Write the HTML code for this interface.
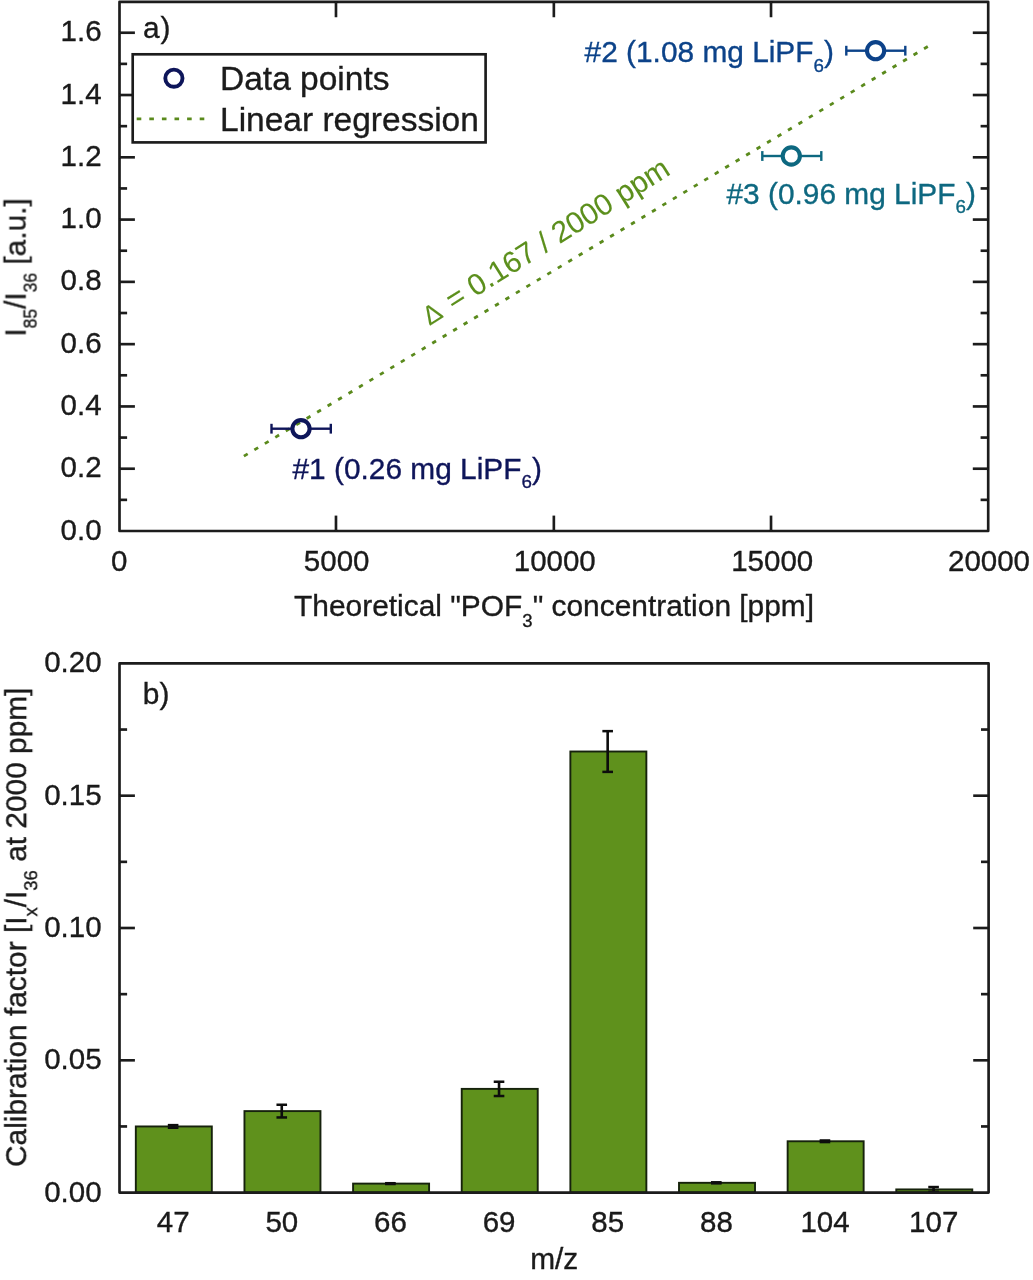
<!DOCTYPE html>
<html lang="en"><head><meta charset="utf-8"><title>Calibration figure</title>
<style>html,body{margin:0;padding:0;background:#fff}body{width:1033px;height:1280px;overflow:hidden}svg{display:block}</style>
</head><body>
<svg width="1033" height="1280" viewBox="0 0 1033 1280" font-family="'Liberation Sans', Arial, sans-serif" font-size="29.85" fill="#1a1a1a">
<style>text{stroke:#1a1a1a;stroke-width:0.35px}</style>
<rect width="1033" height="1280" fill="#fff"/>
<defs><filter id="soft" x="0" y="0" width="100%" height="100%" filterUnits="userSpaceOnUse"><feGaussianBlur stdDeviation="0.55"/></filter></defs>
<g filter="url(#soft)">
<rect width="1033" height="1280" fill="#fff"/>
<line x1="243.91" y1="456.13" x2="927.79" y2="46.47" stroke="#5a8a1c" stroke-width="2.8" stroke-dasharray="4.4 7.797"/>
<rect x="119.5" y="1.85" width="868.70" height="529.15" fill="none" stroke="#1a1a1a" stroke-width="2.65" stroke-linejoin="round"/>
<line x1="119.50" y1="499.86" x2="127.10" y2="499.86" stroke="#1a1a1a" stroke-width="2.65" />
<line x1="988.20" y1="499.86" x2="980.60" y2="499.86" stroke="#1a1a1a" stroke-width="2.65" />
<line x1="119.50" y1="468.72" x2="134.90" y2="468.72" stroke="#1a1a1a" stroke-width="2.65" />
<line x1="988.20" y1="468.72" x2="972.80" y2="468.72" stroke="#1a1a1a" stroke-width="2.65" />
<text x="101.6" y="477.22" text-anchor="end" font-size="29.5">0.2</text>
<line x1="119.50" y1="437.58" x2="127.10" y2="437.58" stroke="#1a1a1a" stroke-width="2.65" />
<line x1="988.20" y1="437.58" x2="980.60" y2="437.58" stroke="#1a1a1a" stroke-width="2.65" />
<line x1="119.50" y1="406.44" x2="134.90" y2="406.44" stroke="#1a1a1a" stroke-width="2.65" />
<line x1="988.20" y1="406.44" x2="972.80" y2="406.44" stroke="#1a1a1a" stroke-width="2.65" />
<text x="101.6" y="414.94" text-anchor="end" font-size="29.5">0.4</text>
<line x1="119.50" y1="375.29" x2="127.10" y2="375.29" stroke="#1a1a1a" stroke-width="2.65" />
<line x1="988.20" y1="375.29" x2="980.60" y2="375.29" stroke="#1a1a1a" stroke-width="2.65" />
<line x1="119.50" y1="344.15" x2="134.90" y2="344.15" stroke="#1a1a1a" stroke-width="2.65" />
<line x1="988.20" y1="344.15" x2="972.80" y2="344.15" stroke="#1a1a1a" stroke-width="2.65" />
<text x="101.6" y="352.65" text-anchor="end" font-size="29.5">0.6</text>
<line x1="119.50" y1="313.01" x2="127.10" y2="313.01" stroke="#1a1a1a" stroke-width="2.65" />
<line x1="988.20" y1="313.01" x2="980.60" y2="313.01" stroke="#1a1a1a" stroke-width="2.65" />
<line x1="119.50" y1="281.87" x2="134.90" y2="281.87" stroke="#1a1a1a" stroke-width="2.65" />
<line x1="988.20" y1="281.87" x2="972.80" y2="281.87" stroke="#1a1a1a" stroke-width="2.65" />
<text x="101.6" y="290.37" text-anchor="end" font-size="29.5">0.8</text>
<line x1="119.50" y1="250.73" x2="127.10" y2="250.73" stroke="#1a1a1a" stroke-width="2.65" />
<line x1="988.20" y1="250.73" x2="980.60" y2="250.73" stroke="#1a1a1a" stroke-width="2.65" />
<line x1="119.50" y1="219.59" x2="134.90" y2="219.59" stroke="#1a1a1a" stroke-width="2.65" />
<line x1="988.20" y1="219.59" x2="972.80" y2="219.59" stroke="#1a1a1a" stroke-width="2.65" />
<text x="101.6" y="228.09" text-anchor="end" font-size="29.5">1.0</text>
<line x1="119.50" y1="188.45" x2="127.10" y2="188.45" stroke="#1a1a1a" stroke-width="2.65" />
<line x1="988.20" y1="188.45" x2="980.60" y2="188.45" stroke="#1a1a1a" stroke-width="2.65" />
<line x1="119.50" y1="157.31" x2="134.90" y2="157.31" stroke="#1a1a1a" stroke-width="2.65" />
<line x1="988.20" y1="157.31" x2="972.80" y2="157.31" stroke="#1a1a1a" stroke-width="2.65" />
<text x="101.6" y="165.81" text-anchor="end" font-size="29.5">1.2</text>
<line x1="119.50" y1="126.16" x2="127.10" y2="126.16" stroke="#1a1a1a" stroke-width="2.65" />
<line x1="988.20" y1="126.16" x2="980.60" y2="126.16" stroke="#1a1a1a" stroke-width="2.65" />
<line x1="119.50" y1="95.02" x2="134.90" y2="95.02" stroke="#1a1a1a" stroke-width="2.65" />
<line x1="988.20" y1="95.02" x2="972.80" y2="95.02" stroke="#1a1a1a" stroke-width="2.65" />
<text x="101.6" y="103.52" text-anchor="end" font-size="29.5">1.4</text>
<line x1="119.50" y1="63.88" x2="127.10" y2="63.88" stroke="#1a1a1a" stroke-width="2.65" />
<line x1="988.20" y1="63.88" x2="980.60" y2="63.88" stroke="#1a1a1a" stroke-width="2.65" />
<line x1="119.50" y1="32.74" x2="134.90" y2="32.74" stroke="#1a1a1a" stroke-width="2.65" />
<line x1="988.20" y1="32.74" x2="972.80" y2="32.74" stroke="#1a1a1a" stroke-width="2.65" />
<text x="101.6" y="41.24" text-anchor="end" font-size="29.5">1.6</text>
<text x="101.6" y="539.50" text-anchor="end" font-size="29.5">0.0</text>
<line x1="335.98" y1="531.00" x2="335.98" y2="515.60" stroke="#1a1a1a" stroke-width="2.65" />
<line x1="335.98" y1="1.85" x2="335.98" y2="17.25" stroke="#1a1a1a" stroke-width="2.65" />
<line x1="553.85" y1="531.00" x2="553.85" y2="515.60" stroke="#1a1a1a" stroke-width="2.65" />
<line x1="553.85" y1="1.85" x2="553.85" y2="17.25" stroke="#1a1a1a" stroke-width="2.65" />
<line x1="771.02" y1="531.00" x2="771.02" y2="515.60" stroke="#1a1a1a" stroke-width="2.65" />
<line x1="771.02" y1="1.85" x2="771.02" y2="17.25" stroke="#1a1a1a" stroke-width="2.65" />
<text x="119.30" y="570.5" text-anchor="middle" font-size="29.5">0</text>
<text x="336.68" y="570.5" text-anchor="middle" font-size="29.5">5000</text>
<text x="554.75" y="570.5" text-anchor="middle" font-size="29.5">10000</text>
<text x="772.23" y="570.5" text-anchor="middle" font-size="29.5">15000</text>
<text x="989.00" y="570.5" text-anchor="middle" font-size="29.5">20000</text>
<text x="294.1" y="616.3" font-size="29.9">Theoretical "POF<tspan font-size="18.51" dy="10.6">3</tspan><tspan dy="-10.6">" concentration [ppm]</tspan></text>
<text transform="translate(25.6,336.6) rotate(-90)">I<tspan font-size="17.46" dy="10.6">85</tspan><tspan dy="-10.6">/I</tspan><tspan font-size="17.46" dy="10.6">36</tspan><tspan dy="-10.6"> [a.u.]</tspan></text>
<text x="143.0" y="38.4">a<tspan dx="0.8">)</tspan></text>
<rect x="132.7" y="54.3" width="352.90" height="88.10" fill="#fff" stroke="#1a1a1a" stroke-width="2.65"/>
<circle cx="173.9" cy="78.2" r="8.6" fill="none" stroke="#11145a" stroke-width="3.9"/>
<line x1="136.7" y1="118.8" x2="206" y2="118.8" stroke="#5a8a1c" stroke-width="2.8" stroke-dasharray="4.6 8.0"/>
<text x="220.0" y="90.0" font-size="33.5">Data points</text>
<text x="220.0" y="130.8" font-size="33.5">Linear regression</text>
<line x1="271.50" y1="428.70" x2="292.40" y2="428.70" stroke="#11145a" stroke-width="2.4" />
<line x1="309.60" y1="428.70" x2="330.80" y2="428.70" stroke="#11145a" stroke-width="2.4" />
<line x1="271.50" y1="423.80" x2="271.50" y2="433.60" stroke="#11145a" stroke-width="2.4" />
<line x1="330.80" y1="423.80" x2="330.80" y2="433.60" stroke="#11145a" stroke-width="2.4" />
<circle cx="301.0" cy="428.7" r="8.6" fill="none" stroke="#11145a" stroke-width="4.1"/>
<line x1="846.30" y1="50.70" x2="867.00" y2="50.70" stroke="#0a4389" stroke-width="2.4" />
<line x1="884.20" y1="50.70" x2="905.30" y2="50.70" stroke="#0a4389" stroke-width="2.4" />
<line x1="846.30" y1="45.80" x2="846.30" y2="55.60" stroke="#0a4389" stroke-width="2.4" />
<line x1="905.30" y1="45.80" x2="905.30" y2="55.60" stroke="#0a4389" stroke-width="2.4" />
<circle cx="875.6" cy="50.7" r="8.6" fill="none" stroke="#0a4389" stroke-width="4.1"/>
<line x1="762.30" y1="156.00" x2="782.70" y2="156.00" stroke="#0f6880" stroke-width="2.4" />
<line x1="799.90" y1="156.00" x2="821.30" y2="156.00" stroke="#0f6880" stroke-width="2.4" />
<line x1="762.30" y1="151.10" x2="762.30" y2="160.90" stroke="#0f6880" stroke-width="2.4" />
<line x1="821.30" y1="151.10" x2="821.30" y2="160.90" stroke="#0f6880" stroke-width="2.4" />
<circle cx="791.3" cy="156.0" r="8.6" fill="none" stroke="#0f6880" stroke-width="4.1"/>
<text x="584.6" y="61.8" fill="#0a4389" style="stroke:#0a4389">#2 (1.08 mg LiPF<tspan font-size="18.81" dy="9.8">6</tspan><tspan dy="-9.8">)</tspan></text>
<text x="726.5" y="203.5" fill="#0f6880" style="stroke:#0f6880">#3 (0.96 mg LiPF<tspan font-size="18.81" dy="9.8">6</tspan><tspan dy="-9.8">)</tspan></text>
<text x="292.5" y="478.5" fill="#11145a" style="stroke:#11145a">#1 (0.26 mg LiPF<tspan font-size="18.81" dy="9.8">6</tspan><tspan dy="-9.8">)</tspan></text>
<text transform="translate(429.5,326.0) rotate(-32.15)" fill="#5b8f1c" style="stroke:#5b8f1c;stroke-width:0.1px"><tspan font-size="26.4">Δ</tspan><tspan dx="2.3"> = 0.167 / 2000 ppm</tspan></text>
<rect x="135.82" y="1126.45" width="76.0" height="66.15" fill="#5e911d" stroke="#16220a" stroke-width="1.9"/>
<line x1="173.12" y1="1125.13" x2="173.12" y2="1127.77" stroke="#0c0c0c" stroke-width="2.6" />
<line x1="167.82" y1="1125.13" x2="178.42" y2="1125.13" stroke="#0c0c0c" stroke-width="2.5" />
<line x1="167.82" y1="1127.77" x2="178.42" y2="1127.77" stroke="#0c0c0c" stroke-width="2.5" />
<text x="173.22" y="1232.3" text-anchor="middle" font-size="29.5">47</text>
<rect x="244.46" y="1111.10" width="76.0" height="81.50" fill="#5e911d" stroke="#16220a" stroke-width="1.9"/>
<line x1="281.76" y1="1104.75" x2="281.76" y2="1117.45" stroke="#0c0c0c" stroke-width="2.6" />
<line x1="276.46" y1="1104.75" x2="287.06" y2="1104.75" stroke="#0c0c0c" stroke-width="2.5" />
<line x1="276.46" y1="1117.45" x2="287.06" y2="1117.45" stroke="#0c0c0c" stroke-width="2.5" />
<text x="281.86" y="1232.3" text-anchor="middle" font-size="29.5">50</text>
<rect x="353.09" y="1183.60" width="76.0" height="9.00" fill="#5e911d" stroke="#16220a" stroke-width="1.9"/>
<line x1="390.39" y1="1183.21" x2="390.39" y2="1184.00" stroke="#0c0c0c" stroke-width="2.6" />
<line x1="385.09" y1="1183.21" x2="395.69" y2="1183.21" stroke="#0c0c0c" stroke-width="2.5" />
<line x1="385.09" y1="1184.00" x2="395.69" y2="1184.00" stroke="#0c0c0c" stroke-width="2.5" />
<text x="390.49" y="1232.3" text-anchor="middle" font-size="29.5">66</text>
<rect x="461.73" y="1088.88" width="76.0" height="103.72" fill="#5e911d" stroke="#16220a" stroke-width="1.9"/>
<line x1="499.03" y1="1081.73" x2="499.03" y2="1096.02" stroke="#0c0c0c" stroke-width="2.6" />
<line x1="493.73" y1="1081.73" x2="504.33" y2="1081.73" stroke="#0c0c0c" stroke-width="2.5" />
<line x1="493.73" y1="1096.02" x2="504.33" y2="1096.02" stroke="#0c0c0c" stroke-width="2.5" />
<text x="499.13" y="1232.3" text-anchor="middle" font-size="29.5">69</text>
<rect x="570.37" y="751.51" width="76.0" height="441.09" fill="#5e911d" stroke="#16220a" stroke-width="1.9"/>
<line x1="607.67" y1="731.14" x2="607.67" y2="771.89" stroke="#0c0c0c" stroke-width="2.6" />
<line x1="602.37" y1="731.14" x2="612.97" y2="731.14" stroke="#0c0c0c" stroke-width="2.5" />
<line x1="602.37" y1="771.89" x2="612.97" y2="771.89" stroke="#0c0c0c" stroke-width="2.5" />
<text x="607.77" y="1232.3" text-anchor="middle" font-size="29.5">85</text>
<rect x="679.01" y="1182.81" width="76.0" height="9.79" fill="#5e911d" stroke="#16220a" stroke-width="1.9"/>
<line x1="716.31" y1="1182.28" x2="716.31" y2="1183.34" stroke="#0c0c0c" stroke-width="2.6" />
<line x1="711.01" y1="1182.28" x2="721.61" y2="1182.28" stroke="#0c0c0c" stroke-width="2.5" />
<line x1="711.01" y1="1183.34" x2="721.61" y2="1183.34" stroke="#0c0c0c" stroke-width="2.5" />
<text x="716.41" y="1232.3" text-anchor="middle" font-size="29.5">88</text>
<rect x="787.64" y="1141.27" width="76.0" height="51.33" fill="#5e911d" stroke="#16220a" stroke-width="1.9"/>
<line x1="824.94" y1="1140.47" x2="824.94" y2="1142.06" stroke="#0c0c0c" stroke-width="2.6" />
<line x1="819.64" y1="1140.47" x2="830.24" y2="1140.47" stroke="#0c0c0c" stroke-width="2.5" />
<line x1="819.64" y1="1142.06" x2="830.24" y2="1142.06" stroke="#0c0c0c" stroke-width="2.5" />
<text x="825.04" y="1232.3" text-anchor="middle" font-size="29.5">104</text>
<rect x="896.28" y="1189.42" width="76.0" height="3.18" fill="#5e911d" stroke="#16220a" stroke-width="1.9"/>
<line x1="933.58" y1="1187.04" x2="933.58" y2="1191.81" stroke="#0c0c0c" stroke-width="2.6" />
<line x1="928.28" y1="1187.04" x2="938.88" y2="1187.04" stroke="#0c0c0c" stroke-width="2.5" />
<line x1="928.28" y1="1191.81" x2="938.88" y2="1191.81" stroke="#0c0c0c" stroke-width="2.5" />
<text x="933.68" y="1232.3" text-anchor="middle" font-size="29.5">107</text>
<rect x="119.5" y="663.4" width="869.10" height="529.20" fill="none" stroke="#1a1a1a" stroke-width="2.65" stroke-linejoin="round"/>
<line x1="119.50" y1="1126.45" x2="127.10" y2="1126.45" stroke="#1a1a1a" stroke-width="2.65" />
<line x1="988.60" y1="1126.45" x2="981.00" y2="1126.45" stroke="#1a1a1a" stroke-width="2.65" />
<line x1="119.50" y1="1060.30" x2="134.90" y2="1060.30" stroke="#1a1a1a" stroke-width="2.65" />
<line x1="988.60" y1="1060.30" x2="973.20" y2="1060.30" stroke="#1a1a1a" stroke-width="2.65" />
<line x1="119.50" y1="994.15" x2="127.10" y2="994.15" stroke="#1a1a1a" stroke-width="2.65" />
<line x1="988.60" y1="994.15" x2="981.00" y2="994.15" stroke="#1a1a1a" stroke-width="2.65" />
<line x1="119.50" y1="928.00" x2="134.90" y2="928.00" stroke="#1a1a1a" stroke-width="2.65" />
<line x1="988.60" y1="928.00" x2="973.20" y2="928.00" stroke="#1a1a1a" stroke-width="2.65" />
<line x1="119.50" y1="861.85" x2="127.10" y2="861.85" stroke="#1a1a1a" stroke-width="2.65" />
<line x1="988.60" y1="861.85" x2="981.00" y2="861.85" stroke="#1a1a1a" stroke-width="2.65" />
<line x1="119.50" y1="795.70" x2="134.90" y2="795.70" stroke="#1a1a1a" stroke-width="2.65" />
<line x1="988.60" y1="795.70" x2="973.20" y2="795.70" stroke="#1a1a1a" stroke-width="2.65" />
<line x1="119.50" y1="729.55" x2="127.10" y2="729.55" stroke="#1a1a1a" stroke-width="2.65" />
<line x1="988.60" y1="729.55" x2="981.00" y2="729.55" stroke="#1a1a1a" stroke-width="2.65" />
<text x="101.6" y="1201.60" text-anchor="end" font-size="29.5">0.00</text>
<text x="101.6" y="1069.30" text-anchor="end" font-size="29.5">0.05</text>
<text x="101.6" y="937.00" text-anchor="end" font-size="29.5">0.10</text>
<text x="101.6" y="804.70" text-anchor="end" font-size="29.5">0.15</text>
<text x="101.6" y="672.40" text-anchor="end" font-size="29.5">0.20</text>
<text x="554.2" y="1269.4" text-anchor="middle">m/z</text>
<text x="142.8" y="704.2">b)</text>
<text transform="translate(26.2,1167.0) rotate(-90)">Calibration factor [I<tspan font-size="18.51" dy="10.6">x</tspan><tspan dy="-10.6">/I</tspan><tspan font-size="18.51" dy="10.6">36</tspan><tspan dy="-10.6"> at 2000 ppm]</tspan></text>
</g>
</svg>
</body></html>
